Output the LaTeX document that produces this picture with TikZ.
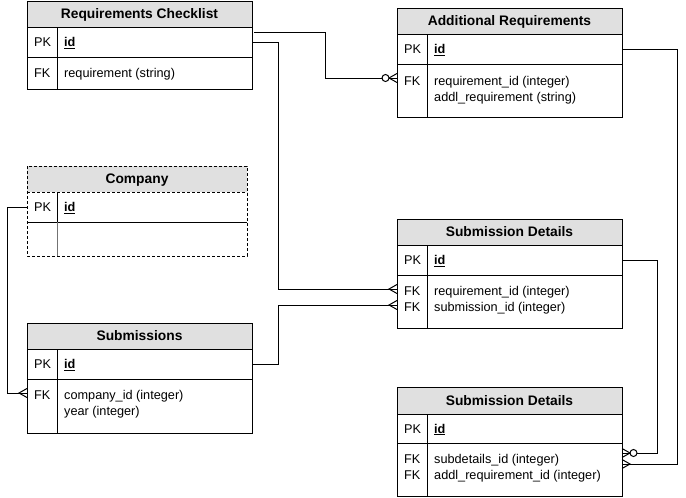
\documentclass[tikz,border=0pt]{standalone}
\usepackage{fontspec}
\setmainfont{Liberation Sans}
\usetikzlibrary{positioning,calc,decorations.markings}
\definecolor{eredge}{RGB}{0,0,0}
\definecolor{erhead}{RGB}{224,224,224}
\newcommand{\erhdrfont}{\fontsize{13.8}{16}\selectfont\bfseries}
\newcommand{\erbodyfont}{\fontsize{12.7}{16}\selectfont}
\newcommand{\pkid}{\textbf{\underline{id}}}
\tikzset{
  erbox/.style={
    draw=eredge, line width=1pt, inner sep=0pt, outer sep=0pt,
    anchor=north west
  },
  hdr/.style={
    erbox, fill=erhead, font=\erhdrfont, minimum width=225pt,
    minimum height=26pt, text height=9.9pt, text depth=0pt
  },
  keycell/.style={erbox, minimum width=30pt},
  fieldcell/.style={erbox, minimum width=195pt},
  celltxt/.style={anchor=base west, inner sep=0pt, font=\erbodyfont, align=left},
  link/.style={draw=eredge, line width=1pt},
  many/.style={link, postaction={decorate, decoration={markings,
    mark=at position 1 with {\draw[link] (0pt,4.5pt) -- (-8pt,0pt) -- (0pt,-4.5pt);}}}},
  zmany/.style={many, postaction={decorate, decoration={markings,
    mark=at position 1 with {\draw[link, fill=white] (-11.5pt,0pt) circle (3.5pt);}}}},
  dash3/.style={dash pattern=on 3pt off 2pt}
}
\begin{document}
\begin{tikzpicture}[x=1pt, y=-1pt]
  \useasboundingbox (0,0) rectangle (686,498);

  % Requirements Checklist
  \node[hdr] (rc) at (27,1) {Requirements Checklist};
  \node[keycell, minimum height=30pt] (rcpkk) at (rc.south west) {};
  \node[fieldcell, minimum height=30pt] (rcpkf) at (rcpkk.north east) {};
  \node[keycell, minimum height=32pt] (rcfkk) at (rcpkk.south west) {};
  \node[fieldcell, minimum height=32pt] (rcfkf) at (rcfkk.north east) {};
  \node[celltxt] at ($(rcpkk.north west)+(7,19.5)$) {PK};
  \node[celltxt] at ($(rcpkf.north west)+(7,19.5)$) {\pkid};
  \node[celltxt] at ($(rcfkk.north west)+(7,20.5)$) {FK};
  \node[celltxt] at ($(rcfkf.north west)+(7,20.5)$) {requirement (string)};

  % Additional Requirements
  \node[hdr] (ar) at (397,8) {Additional Requirements};
  \node[keycell, minimum height=30pt] (arpkk) at (ar.south west) {};
  \node[fieldcell, minimum height=30pt] (arpkf) at (arpkk.north east) {};
  \node[keycell, minimum height=53pt] (arfkk) at (arpkk.south west) {};
  \node[fieldcell, minimum height=53pt] (arfkf) at (arfkk.north east) {};
  \node[celltxt] at ($(arpkk.north west)+(7,19.5)$) {PK};
  \node[celltxt] at ($(arpkf.north west)+(7,19.5)$) {\pkid};
  \node[celltxt] at ($(arfkk.north west)+(7,21.5)$) {FK};
  \node[celltxt] at ($(arfkf.north west)+(7,37.5)$) {requirement\_id (integer)\\addl\_requirement (string)};

  % Company
  \node[hdr, draw=none, minimum width=220pt] (co) at (27,166) {Company};
  \node[keycell, draw=none, minimum height=30pt] (copkk) at (co.south west) {};
  \node[fieldcell, draw=none, minimum width=190pt, minimum height=30pt] (copkf) at (copkk.north east) {};
  \node[keycell, draw=none, minimum height=34pt] (coexk) at (copkk.south west) {};
  \node[fieldcell, draw=none, minimum width=190pt, minimum height=34pt] (coexf) at (coexk.north east) {};
  \draw[link, dash3] (co.north west) rectangle (coexf.south east);
  \draw[link, dash3] (co.south west) -- (co.south east);
  \draw[link] (copkk.south west) -- (copkf.south east);
  \draw[link] (copkk.north east) -- (copkk.south east);
  \draw[link, draw=black!55] (coexk.north east) -- (coexk.south east);
  \node[celltxt] at ($(copkk.north west)+(7,19.5)$) {PK};
  \node[celltxt] at ($(copkf.north west)+(7,19.5)$) {\pkid};

  % Submission Details (middle)
  \node[hdr] (sdm) at (397,219) {Submission Details};
  \node[keycell, minimum height=30pt] (sdmpkk) at (sdm.south west) {};
  \node[fieldcell, minimum height=30pt] (sdmpkf) at (sdmpkk.north east) {};
  \node[keycell, minimum height=53pt] (sdmfkk) at (sdmpkk.south west) {};
  \node[fieldcell, minimum height=53pt] (sdmfkf) at (sdmfkk.north east) {};
  \node[celltxt] at ($(sdmpkk.north west)+(7,19.5)$) {PK};
  \node[celltxt] at ($(sdmpkf.north west)+(7,19.5)$) {\pkid};
  \node[celltxt] at ($(sdmfkk.north west)+(7,36)$) {FK\\FK};
  \node[celltxt] at ($(sdmfkf.north west)+(7,36)$) {requirement\_id (integer)\\submission\_id (integer)};

  % Submissions
  \node[hdr] (sub) at (27,323) {Submissions};
  \node[keycell, minimum height=30pt] (subpkk) at (sub.south west) {};
  \node[fieldcell, minimum height=30pt] (subpkf) at (subpkk.north east) {};
  \node[keycell, minimum height=54pt] (subfkk) at (subpkk.south west) {};
  \node[fieldcell, minimum height=54pt] (subfkf) at (subfkk.north east) {};
  \node[celltxt] at ($(subpkk.north west)+(7,19.5)$) {PK};
  \node[celltxt] at ($(subpkf.north west)+(7,19.5)$) {\pkid};
  \node[celltxt] at ($(subfkk.north west)+(7,20)$) {FK};
  \node[celltxt] at ($(subfkf.north west)+(7,36)$) {company\_id (integer)\\year (integer)};

  % Submission Details (bottom)
  \node[hdr, minimum height=27pt] (sdb) at (397,387) {Submission Details};
  \node[keycell, minimum height=29pt] (sdbpkk) at (sdb.south west) {};
  \node[fieldcell, minimum height=29pt] (sdbpkf) at (sdbpkk.north east) {};
  \node[keycell, minimum height=53pt] (sdbfkk) at (sdbpkk.south west) {};
  \node[fieldcell, minimum height=53pt] (sdbfkf) at (sdbfkk.north east) {};
  \node[celltxt] at ($(sdbpkk.north west)+(7,19)$) {PK};
  \node[celltxt] at ($(sdbpkf.north west)+(7,19)$) {\pkid};
  \node[celltxt] at ($(sdbfkk.north west)+(7,36)$) {FK\\FK};
  \node[celltxt] at ($(sdbfkf.north west)+(7,36)$) {subdetails\_id (integer)\\addl\_requirement\_id (integer)};

  % relations
  \draw[zmany] ($(rcpkf.east)+(2,-10)$) -- (325,32) |- ($(arfkk.north west)+(0,14)$);
  \draw[many] (rcpkf.east) -- (278,42) |- ($(sdmfkk.north west)+(0,14)$);
  \draw[many] (subpkf.east) -- (278,364) |- ($(sdmfkk.north west)+(0,30)$);
  \draw[many] (copkk.west) -- (7,207) |- ($(subfkk.north west)+(0,14)$);
  \draw[many] (arpkf.east) -- (677,49) |- ($(sdbfkf.north east)+(0,21)$);
  \draw[zmany] (sdmpkf.east) -- (657,260) |- ($(sdbfkf.north east)+(0,10)$);
\end{tikzpicture}
\end{document}
